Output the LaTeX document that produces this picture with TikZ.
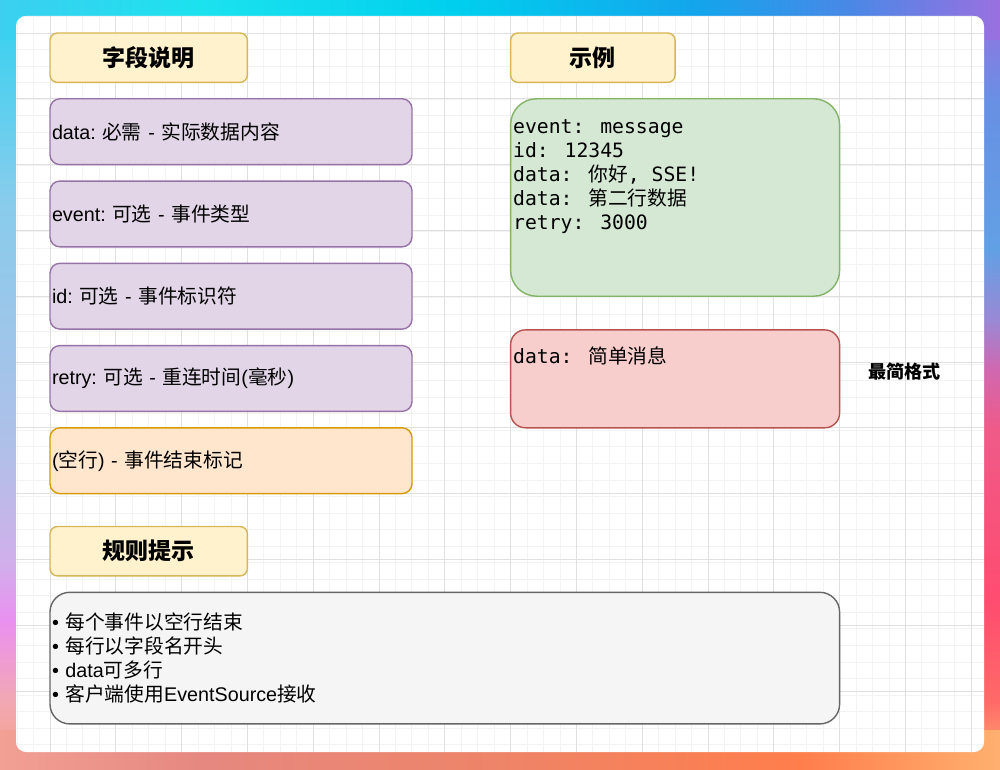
\documentclass[tikz,border=0pt]{standalone}
\usepackage{fontspec}
\setmainfont{Liberation Sans}
\newfontfamily\cjk{Noto Sans CJK SC}
\newfontfamily\monof{DejaVu Sans Mono}
\newcommand\zh[1]{{\cjk #1}}
\newcommand\gap{\hspace{0.32em}}
% box colours
\definecolor{ylwF}{HTML}{FFF2CC}\definecolor{ylwD}{HTML}{D6B656}
\definecolor{purF}{HTML}{E1D5E7}\definecolor{purD}{HTML}{9673A6}
\definecolor{orgF}{HTML}{FFE6CC}\definecolor{orgD}{HTML}{D79B00}
\definecolor{grnF}{HTML}{D5E8D4}\definecolor{grnD}{HTML}{82B366}
\definecolor{redF}{HTML}{F8CECC}\definecolor{redD}{HTML}{B85450}
\definecolor{gryF}{HTML}{F5F5F5}\definecolor{gryD}{HTML}{666666}
\definecolor{gridMinor}{HTML}{F3F3F3}\definecolor{gridMajor}{HTML}{E0E0E0}
% background gradient colours
\definecolor{tA}{HTML}{3CCFF0}\definecolor{tB}{HTML}{1CE2EE}\definecolor{tC}{HTML}{00D0EE}
\definecolor{tD}{HTML}{14A4EC}\definecolor{tE}{HTML}{4A88E6}\definecolor{tF}{HTML}{9A70E0}
\definecolor{bA}{HTML}{F2A094}\definecolor{bB}{HTML}{E68880}\definecolor{bC}{HTML}{EE8468}
\definecolor{bD}{HTML}{FF7E4C}\definecolor{bE}{HTML}{FFB070}
\definecolor{lA}{HTML}{F4A080}\definecolor{lB}{HTML}{F2A8B4}\definecolor{lC}{HTML}{EA90F0}
\definecolor{lD}{HTML}{D0B0EA}\definecolor{lE}{HTML}{B0C0E8}\definecolor{lF}{HTML}{88CCEC}\definecolor{lG}{HTML}{30D2F0}
\definecolor{rA}{HTML}{FFB070}\definecolor{rB}{HTML}{FF6A68}\definecolor{rC}{HTML}{FF4C70}
\definecolor{rD}{HTML}{F05A88}\definecolor{rE}{HTML}{D068B0}\definecolor{rF}{HTML}{9A88D4}
\definecolor{rG}{HTML}{62A0E4}\definecolor{rH}{HTML}{6890E4}\definecolor{rI}{HTML}{9A70E0}
\pgfdeclarehorizontalshading{bgtop}{100bp}{color(0bp)=(tA); color(25bp)=(tA); color(35bp)=(tB); color(47.5bp)=(tC); color(60bp)=(tD); color(67.5bp)=(tE); color(75bp)=(tF); color(100bp)=(tF)}
\pgfdeclarehorizontalshading{bgbottom}{100bp}{color(0bp)=(bA); color(25bp)=(bA); color(35bp)=(bB); color(50bp)=(bC); color(65bp)=(bD); color(75bp)=(bE); color(100bp)=(bE)}
\pgfdeclareverticalshading{bgleft}{100bp}{color(0bp)=(lA); color(25bp)=(lA); color(29.5bp)=(lB); color(34.7bp)=(lC); color(38.6bp)=(lD); color(45.8bp)=(lE); color(62bp)=(lF); color(75bp)=(lG); color(100bp)=(lG)}
\pgfdeclareverticalshading{bgright}{100bp}{color(0bp)=(rA); color(25bp)=(rA); color(29.5bp)=(rB); color(36bp)=(rC); color(47.1bp)=(rD); color(51bp)=(rE); color(54.2bp)=(rF); color(58.8bp)=(rG); color(68.5bp)=(rH); color(75bp)=(rI); color(100bp)=(rI)}
\tikzset{
  rbox/.style={draw, line width=1.4pt, rounded corners=#1, inner sep=0pt},
  bodyfont/.style={font=\fontsize{19.74}{23.7}\selectfont},
  hdr/.style={rbox=7.4pt, fill=ylwF, draw=ylwD, minimum width=197.4pt, minimum height=49.4pt,
    font=\fontsize{23}{27}\selectfont\cjk\bfseries},
  field/.style={rbox=9.9pt, fill=purF, draw=purD, minimum height=65.8pt, text width=358pt,
    inner xsep=2pt, align=left, bodyfont},
  codetext/.style={inner sep=0pt, align=left, font=\fontsize{19.74}{23.9}\selectfont\monof},
  minorline/.style={draw=gridMinor, line width=0.9pt},
  majorline/.style={draw=gridMajor, line width=0.9pt},
}
\begin{document}
\begin{tikzpicture}[x=1pt, y=-1pt]
\useasboundingbox (0,0) rectangle (1000,770);
% gradient frame
\shade[shading=bgleft] (0,0) rectangle (40,770);
\shade[shading=bgright] (960,0) rectangle (1000,770);
\shade[shading=bgtop] (0,0) rectangle (1000,40);
\shade[shading=bgbottom] (0,730) rectangle (1000,770);
% white panel with grid
\fill[white, rounded corners=10pt] (16,16) rectangle (984,752);
\begin{scope}
  \clip[rounded corners=10pt] (16,16) rectangle (984,752);
  \foreach \i in {0,...,59} { \path[minorline] ({0.65+16.45*\i},16) -- ({0.65+16.45*\i},752); }
  \foreach \i in {1,...,45} { \path[minorline] (16,{16.55*\i}) -- (984,{16.55*\i}); }
  \foreach \k in {0,...,14} { \path[majorline] ({50+65.8*\k},16) -- ({50+65.8*\k},752); }
  \foreach \k in {0,...,10} { \path[majorline] (16,{33+65.8*\k}) -- (984,{33+65.8*\k}); }
\end{scope}
% left column
\node[hdr] (h1) at (148.7,57.7) {字段说明};
\node[field] (f1) at (231,131.7) {data:\gap\zh{必需} - \zh{实际数据内容}};
\node[field] (f2) at (231,213.95) {event:\gap\zh{可选} - \zh{事件类型}};
\node[field] (f3) at (231,296.2) {id:\gap\zh{可选} - \zh{事件标识符}};
\node[field] (f4) at (231,378.45) {retry:\gap\zh{可选} - \zh{重连时间}(\zh{毫秒})};
\node[field, fill=orgF, draw=orgD] (f5) at (231,460.7) {(\zh{空行}) - \zh{事件结束标记}};
% right column
\node[hdr, minimum width=164.5pt] (h2) at (592.85,57.7) {示例};
\node[rbox=26pt, fill=grnF, draw=grnD, minimum width=329pt, minimum height=197.4pt] (ex) at (675.1,197.5) {};
\node[codetext, anchor=north west] (extext) at (513,119.5)
  {event: message\\id: 12345\\data: \zh{你好}, SSE!\\data: \zh{第二行数据}\\retry: 3000};
\node[rbox=14.8pt, fill=redF, draw=redD, minimum width=329pt, minimum height=97.9pt] (simple) at (675.1,378.85) {};
\node[codetext, anchor=base west] (simpletext) at (513,363) {data: \zh{简单消息}};
\node[inner sep=0pt, font=\fontsize{18.1}{21}\selectfont\cjk\bfseries] (simplelabel) at (904.5,371.5) {最简格式};
% rules
\node[hdr] (h3) at (148.7,551.2) {规则提示};
\node[rbox=19.7pt, fill=gryF, draw=gryD, minimum height=131.6pt, text width=785.6pt, inner xsep=2pt,
  align=left, font=\fontsize{19.74}{24.2}\selectfont] (rules) at (444.8,658.1)
  {• \zh{每个事件以空行结束}\\• \zh{每行以字段名开头}\\• data\zh{可多行}\\• \zh{客户端使用}EventSource\zh{接收}};
\end{tikzpicture}
\end{document}
